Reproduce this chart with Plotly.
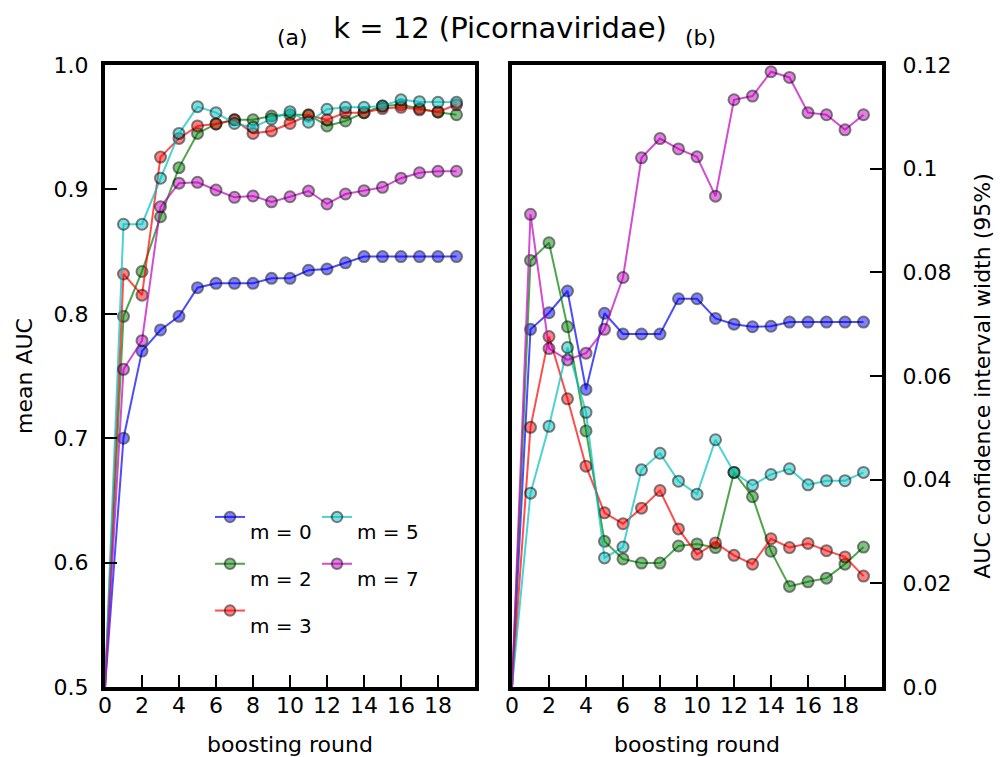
import plotly.graph_objects as go

FONT = "DejaVu Sans"

rounds = list(range(20))
series_names = ["m = 0", "m = 2", "m = 3", "m = 5", "m = 7"]

auc_m0 = [0.5, 0.700, 0.770, 0.787, 0.798, 0.821, 0.8245, 0.8245, 0.8245, 0.8285, 0.8285, 0.835, 0.836, 0.841, 0.846, 0.846, 0.846, 0.846, 0.846, 0.846]
auc_m2 = [0.5, 0.798, 0.834, 0.878, 0.9175, 0.945, 0.9526, 0.956, 0.956, 0.959, 0.960, 0.960, 0.951, 0.955, 0.9617, 0.967, 0.968, 0.965, 0.962, 0.960]
auc_m3 = [0.5, 0.832, 0.815, 0.926, 0.941, 0.951, 0.9526, 0.956, 0.945, 0.947, 0.953, 0.9596, 0.956, 0.9617, 0.9617, 0.965, 0.966, 0.964, 0.9625, 0.968]
auc_m5 = [0.5, 0.872, 0.872, 0.909, 0.945, 0.9665, 0.9617, 0.953, 0.950, 0.9566, 0.9625, 0.954, 0.9644, 0.966, 0.966, 0.967, 0.972, 0.9705, 0.970, 0.970]
auc_m7 = [0.5, 0.7554, 0.7784, 0.886, 0.905, 0.9057, 0.8995, 0.8936, 0.8947, 0.890, 0.8941, 0.8987, 0.8883, 0.8963, 0.899, 0.9017, 0.909, 0.9134, 0.9146, 0.9146]

ci_m0 = [0.0, 0.0690, 0.0722, 0.0764, 0.0574, 0.0721, 0.0681, 0.0681, 0.0681, 0.0749, 0.0749, 0.0711, 0.0700, 0.0695, 0.0696, 0.0704, 0.0704, 0.0704, 0.0704, 0.0704]
ci_m2 = [0.0, 0.0823, 0.0857, 0.0695, 0.0494, 0.0281, 0.0247, 0.0239, 0.0239, 0.0272, 0.0276, 0.0269, 0.0414, 0.0367, 0.0262, 0.0194, 0.0203, 0.0210, 0.0237, 0.0270]
ci_m3 = [0.0, 0.0501, 0.0676, 0.0556, 0.0426, 0.0336, 0.0315, 0.0345, 0.0379, 0.0305, 0.0256, 0.0278, 0.0254, 0.0237, 0.0286, 0.0269, 0.0277, 0.0263, 0.0251, 0.0214]
ci_m5 = [0.0, 0.0374, 0.0503, 0.0655, 0.0530, 0.0249, 0.0270, 0.0419, 0.0451, 0.0397, 0.0372, 0.0477, 0.0414, 0.0389, 0.0410, 0.0421, 0.0390, 0.0398, 0.0398, 0.0414]
ci_m7 = [0.0, 0.0912, 0.0653, 0.0631, 0.0644, 0.0690, 0.0790, 0.1021, 0.1058, 0.1038, 0.1023, 0.0947, 0.1133, 0.1140, 0.1187, 0.1176, 0.1108, 0.1104, 0.1075, 0.1104]

x_tickvals = [0, 2, 4, 6, 8, 10, 12, 14, 16, 18]
auc_tickvals = [0.5, 0.6, 0.7, 0.8, 0.9, 1.0]
auc_ticktext = ["0.5", "0.6", "0.7", "0.8", "0.9", "1.0"]
ci_tickvals = [0.0, 0.02, 0.04, 0.06, 0.08, 0.10, 0.12]
ci_ticktext = ["0.0", "0.02", "0.04", "0.06", "0.08", "0.1", "0.12"]

auc_series = [auc_m0, auc_m2, auc_m3, auc_m5, auc_m7]
ci_series = [ci_m0, ci_m2, ci_m3, ci_m5, ci_m7]
colors = ["rgba(0,0,255,0.7)", "rgba(0,128,0,0.7)", "rgba(255,0,0,0.7)",
          "rgba(0,191,191,0.7)", "rgba(191,0,191,0.7)"]
legend_ids = ["legend", "legend", "legend", "legend2", "legend2"]

msize = [0] + [11] * (len(rounds) - 1)

fig = go.Figure()
for i, name in enumerate(series_names):
    marker = dict(size=msize, color=colors[i], line=dict(color="rgba(0,0,0,0.72)", width=2))
    label = "<br><span style='font-size:20px'>" + name + "</span>"
    fig.add_trace(go.Scatter(
        x=rounds, y=auc_series[i], mode="lines+markers", name=label,
        line=dict(color=colors[i], width=2), marker=marker,
        legend=legend_ids[i], legendgroup=name, showlegend=True,
        xaxis="x", yaxis="y"))
    fig.add_trace(go.Scatter(
        x=rounds, y=ci_series[i], mode="lines+markers", name=label,
        line=dict(color=colors[i], width=2), marker=marker,
        legendgroup=name, showlegend=False,
        xaxis="x2", yaxis="y2"))

ydom = [1 - 687 / 757, 1 - 65 / 757]
axis_common = dict(showline=True, linecolor="black", linewidth=4, mirror=True,
                   ticks="inside", ticklen=12, tickwidth=2, tickcolor="black",
                   showgrid=False, zeroline=False, automargin=False,
                   tickfont=dict(family=FONT, size=22, color="black"))

fig.update_layout(
    template="none",
    width=1000, height=757,
    margin=dict(l=0, r=0, t=0, b=0),
    paper_bgcolor="white", plot_bgcolor="white",
    font=dict(family=FONT, color="black"),
    title=dict(text="k = 12 (Picornaviridae)", x=0.5, xanchor="center",
               y=1 - 28 / 757, yanchor="middle", font=dict(family=FONT, size=29, color="black")),
    xaxis=dict(domain=[0.105, 0.475], range=[0, 20], tickvals=x_tickvals,
               anchor="y", ticklabelstandoff=-4,
               title=dict(text="boosting round", standoff=26, font=dict(family=FONT, size=22)),
               **axis_common),
    yaxis=dict(domain=ydom, range=[0.5, 1.0], tickvals=auc_tickvals, ticktext=auc_ticktext,
               anchor="x", ticklabelstandoff=8,
               title=dict(text="mean AUC", standoff=16, font=dict(family=FONT, size=22)),
               **axis_common),
    xaxis2=dict(domain=[0.512, 0.882], range=[0, 20], tickvals=x_tickvals,
                anchor="y2", ticklabelstandoff=-4,
                title=dict(text="boosting round", standoff=26, font=dict(family=FONT, size=22)),
                **axis_common),
    yaxis2=dict(domain=ydom, range=[0, 0.12], tickvals=ci_tickvals, ticktext=ci_ticktext,
                anchor="x2", side="right", ticklabelstandoff=12,
                title=dict(text="AUC confidence interval width (95%)", standoff=25,
                           font=dict(family=FONT, size=22)),
                **axis_common),
    legend=dict(x=0.210, y=1 - 502 / 757, xanchor="left", yanchor="top",
                font=dict(family=FONT, size=13, color="black"), valign="top",
                traceorder="grouped", tracegroupgap=10, bgcolor="rgba(0,0,0,0)", borderwidth=0),
    legend2=dict(x=0.317, y=1 - 502 / 757, xanchor="left", yanchor="top",
                 font=dict(family=FONT, size=13, color="black"), valign="top",
                 traceorder="grouped", tracegroupgap=10, bgcolor="rgba(0,0,0,0)", borderwidth=0),
    annotations=[
        dict(text="(a)", x=292 / 1000, y=1 - 38 / 757, xref="paper", yref="paper",
             showarrow=False, xanchor="center", yanchor="middle",
             font=dict(family=FONT, size=22, color="black")),
        dict(text="(b)", x=700 / 1000, y=1 - 38 / 757, xref="paper", yref="paper",
             showarrow=False, xanchor="center", yanchor="middle",
             font=dict(family=FONT, size=22, color="black")),
    ],
)

fig.write_html("out.html")
